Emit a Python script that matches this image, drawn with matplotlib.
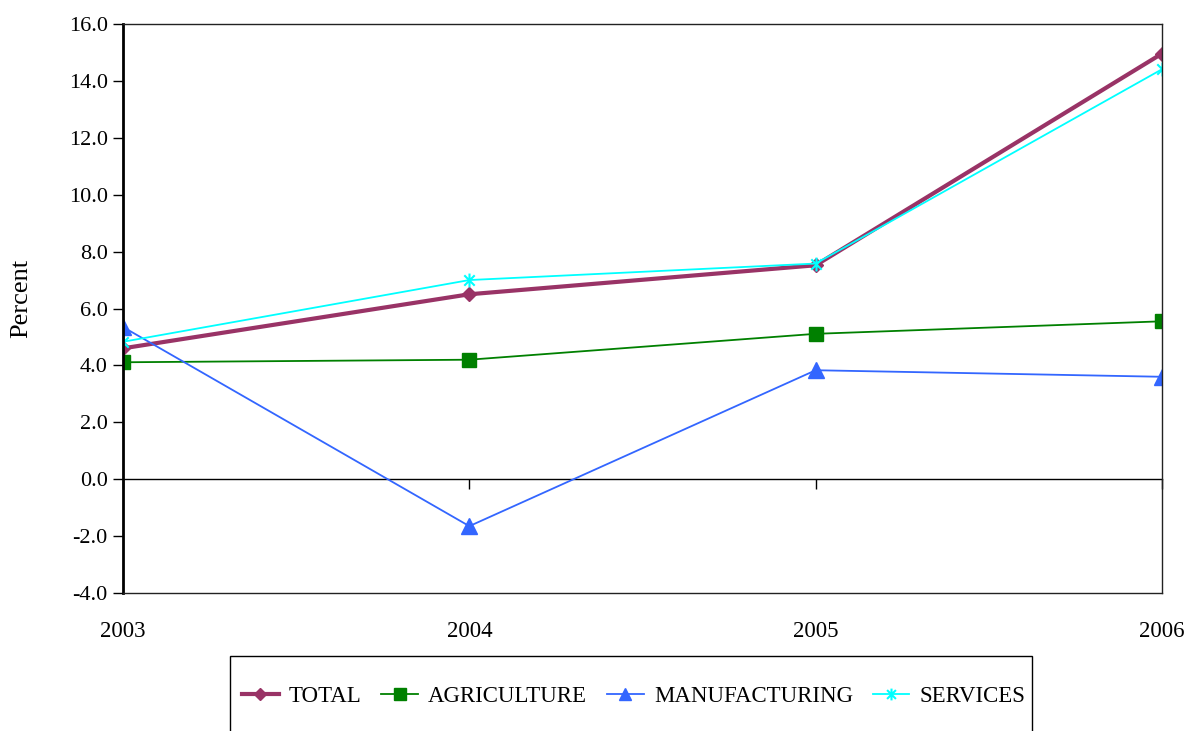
import matplotlib
matplotlib.use("Agg")
import matplotlib.pyplot as plt
from matplotlib.path import Path
from matplotlib.patches import Rectangle
import numpy as np

years = ["2003", "2004", "2005", "2006"]
total = [4.6, 6.5, 7.52, 14.96]
agriculture = [4.11, 4.2, 5.11, 5.55]
manufacturing = [5.35, -1.65, 3.83, 3.6]
services = [4.83, 7.0, 7.58, 14.41]

plt.rcParams['font.family'] = ['Liberation Serif', 'DejaVu Serif']

W, H = 1187, 731
fig = plt.figure(figsize=(W / 100, H / 100), dpi=100)
ax = fig.add_axes([123 / W, 1 - 593 / H, (1162 - 123) / W, (593 - 24) / H])

# excel style star: x with a vertical bar
star = Path([(0, -1), (0, 1), (-0.75, -0.75), (0.75, 0.75), (-0.75, 0.75), (0.75, -0.75)],
            [Path.MOVETO, Path.LINETO, Path.MOVETO, Path.LINETO, Path.MOVETO, Path.LINETO])

x = np.arange(len(years))
ax.plot(x, total, color='#993366', lw=3, marker='D', ms=7, label='TOTAL')
ax.plot(x, agriculture, color='#008000', lw=1.3, marker='s', ms=10, label='AGRICULTURE')
ax.plot(x, manufacturing, color='#3366FF', lw=1.3, marker='^', ms=11, label='MANUFACTURING')
ax.plot(x, services, color='#00FFFF', lw=1.3, marker=star, ms=10, mew=1.5, label='SERVICES')

ymin, ymax = -4, 16
ax.set_xlim(0, len(years) - 1)
ax.set_ylim(ymin, ymax)
ax.set_yticks(np.arange(ymin, ymax + 1, 2))
ax.set_yticklabels(['%.1f' % v for v in np.arange(ymin, ymax + 1, 2)], fontsize=16)
ax.tick_params(axis='y', direction='out', length=7, width=1, pad=4)
ax.set_xticks(x)
ax.set_xticklabels(years, fontsize=16.5)
ax.tick_params(axis='x', length=0, pad=20)
ax.set_ylabel('Percent', fontsize=19)
ax.yaxis.set_label_coords(-0.087, 0.518)

for s in ax.spines.values():
    s.set_linewidth(1)
    s.set_color('#222222')
ax.spines['left'].set_linewidth(2)
ax.spines['left'].set_color('black')

# category axis crossing at zero
zero = ax.secondary_xaxis((0 - ymin) / (ymax - ymin))
zero.set_xticks(x)
zero.set_xticklabels([])
zero.tick_params(direction='out', length=7, width=1)
zero.spines['bottom'].set_linewidth(1)

# legend box, cut off at the bottom edge like the original
fig.patches.append(Rectangle((230 / W, -0.05), (1032 - 230) / W, 0.05 + 1 - 656 / H,
                             transform=fig.transFigure, fill=False, ec='black', lw=1))
fig.legend(loc='center left', bbox_to_anchor=(242 / W, 1 - 696 / H),
           ncol=4, fontsize=16.5, frameon=False, handlelength=1.6, handletextpad=0.44,
           columnspacing=0.87, borderpad=0, borderaxespad=0, markerscale=0.85)

fig.savefig("out.png", dpi=100)
